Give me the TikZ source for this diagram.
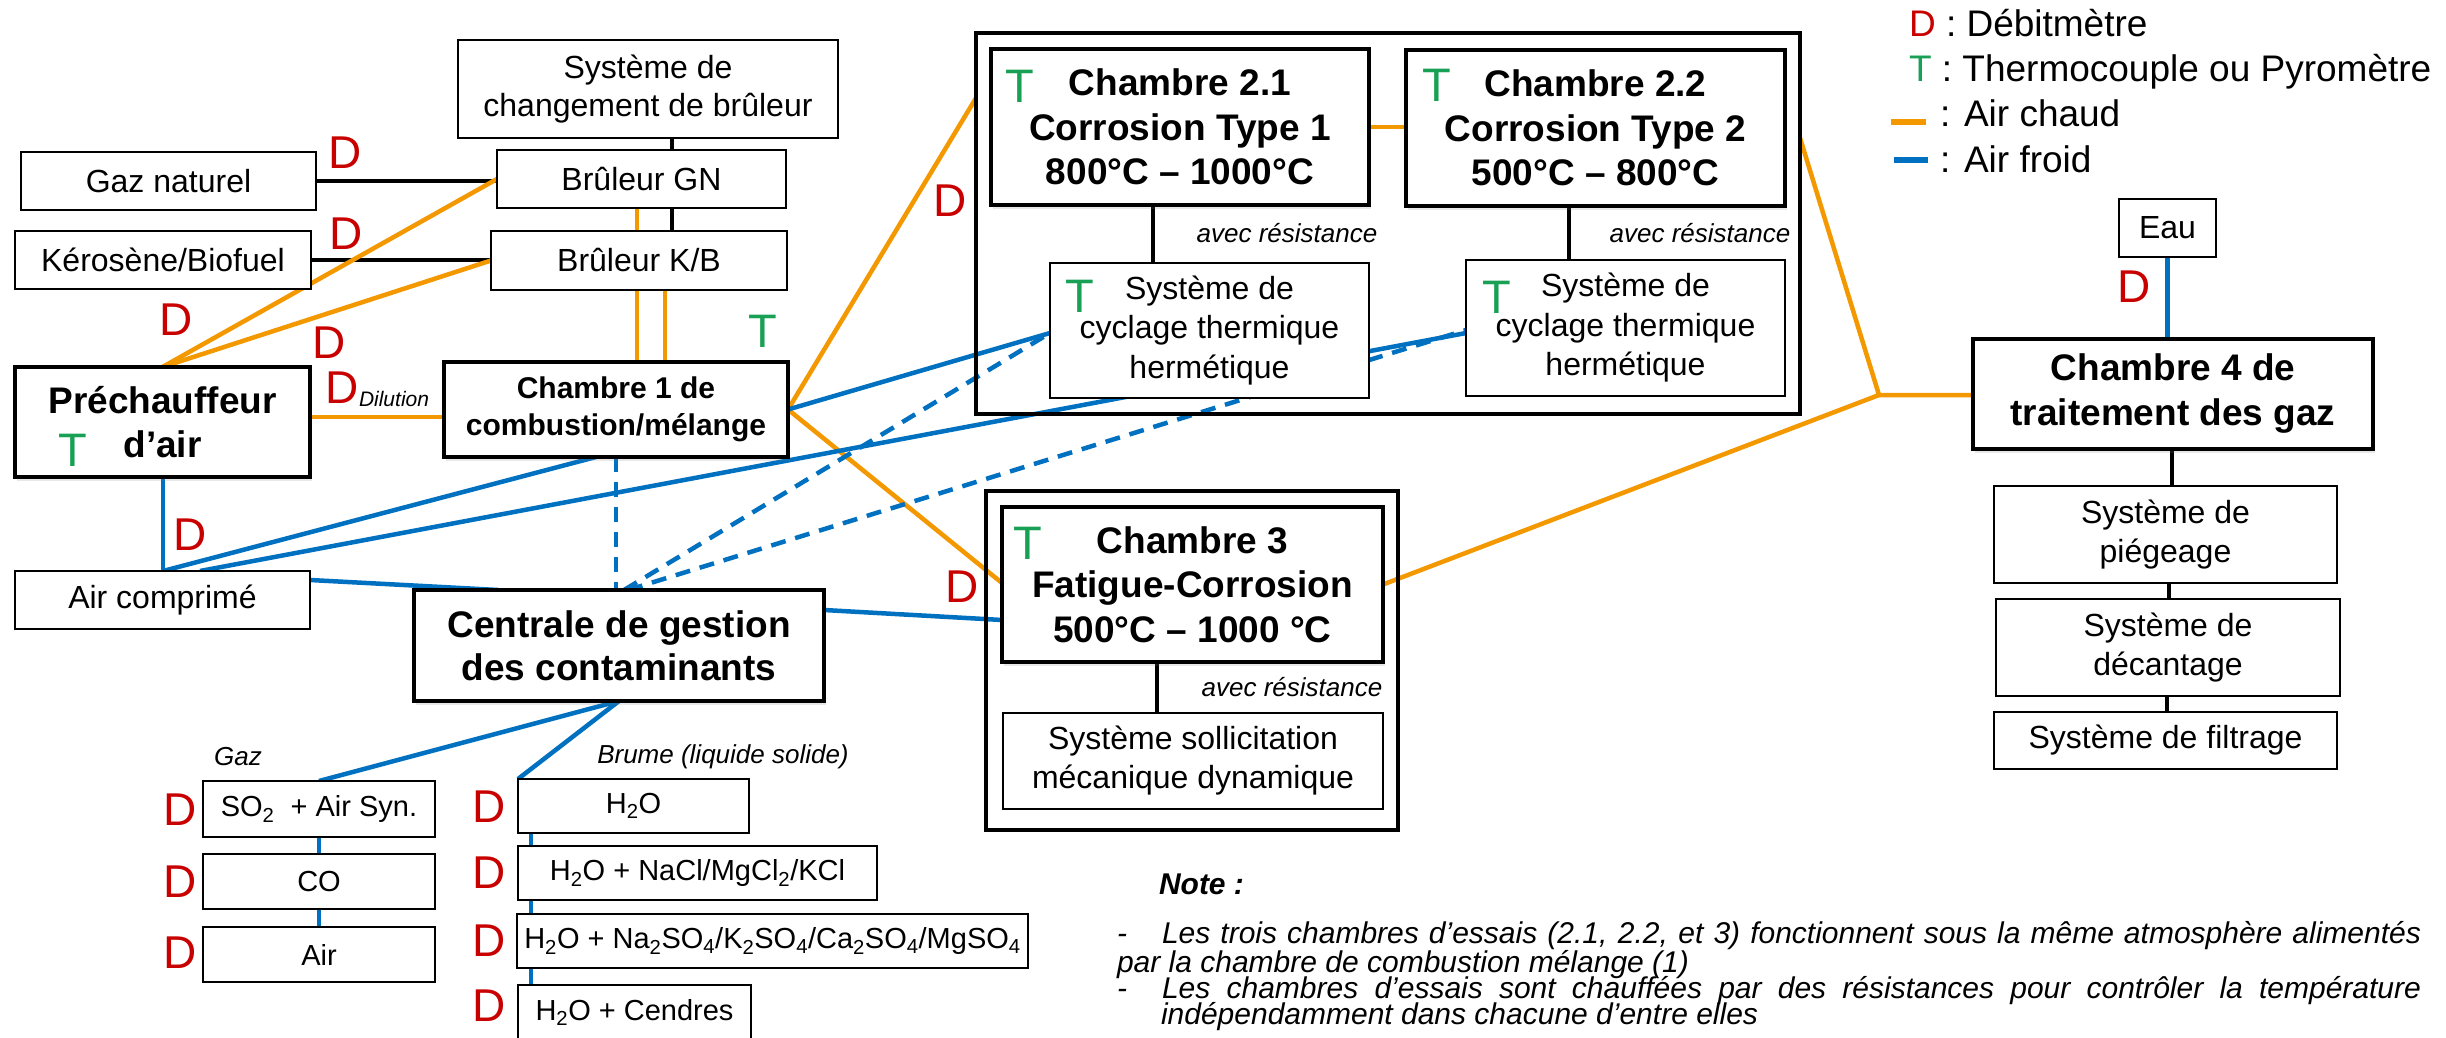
\documentclass[tikz,border=0pt]{standalone}
\usepackage{fontspec}
\setmainfont{Liberation Sans}
\usetikzlibrary{shadows}
\pgfdeclarelayer{bg}
\pgfsetlayers{bg,main}
\definecolor{hotc}{RGB}{244,152,0}
\definecolor{coldc}{RGB}{0,112,192}
\definecolor{dred}{RGB}{200,0,0}
\definecolor{tgreen}{RGB}{24,160,84}
\newcommand\setfs[2]{\fontsize{#1}{#2}\selectfont}
\begin{document}
\begin{tikzpicture}[x=1pt,y=-1pt,
  every node/.style={inner sep=0pt, outer sep=0pt},
  thin box/.style={draw, line width=2pt, fill=white, align=center, font=\setfs{32}{38.5}},
  conta/.style={thin box, font=\setfs{29}{34}},
  main box/.style={draw, line width=4pt, fill=white, align=center,
    font=\setfs{37}{44.5}\bfseries,
    drop shadow={shadow xshift=2pt, shadow yshift=-4pt, opacity=0.18}},
  frame/.style={draw, line width=4pt},
  dmark/.style={text=dred, font=\setfs{46}{46}},
  tmark/.style={text=tgreen, font=\setfs{47}{47}},
  remark/.style={font=\setfs{26}{30}\itshape},
  notetext/.style={anchor=base west, font=\setfs{30}{30}\itshape},
  legendtext/.style={anchor=base west, font=\setfs{37}{37}},
  hot/.style={draw=hotc, line width=4.5pt},
  cold/.style={draw=coldc, line width=4.5pt},
  colddash/.style={cold, dash pattern=on 15pt off 10pt},
  link/.style={draw=black, line width=4pt},
]
\useasboundingbox (0,0) rectangle (2446,1038);
\begin{pgfonlayer}{bg}
  \fill[white] (0,0) rectangle (2446,1038);
\end{pgfonlayer}

% ---------- burners and air supply ----------
\node[thin box, minimum width=380pt, minimum height=98pt] (sysb) at (648,89) {Système de\\changement de brûleur};
\node[thin box, minimum width=295pt, minimum height=58pt] (gaz) at (168.5,181) {Gaz naturel};
\node[thin box, minimum width=289pt, minimum height=58pt] (gn) at (641.5,179) {Brûleur GN};
\node[thin box, minimum width=296pt, minimum height=58pt] (ker) at (163,260) {Kérosène/Biofuel};
\node[thin box, minimum width=296pt, minimum height=59pt] (kb) at (639,260.5) {Brûleur K/B};
\node[main box, minimum width=295pt, minimum height=110pt] (pre) at (162.5,422) {Préchauffeur\\d’air};
\node[main box, font=\setfs{30}{37}\bfseries, minimum width=344pt, minimum height=95pt] (c1) at (616,409.5) {Chambre 1 de\\combustion/mélange};
\node[thin box, minimum width=295pt, minimum height=58pt] (air) at (162.5,600) {Air comprimé};

% ---------- contaminants ----------
\node[main box, font=\setfs{37}{43}\bfseries, minimum width=410pt, minimum height=111pt] (cent) at (619,645.5) {Centrale de gestion\\des contaminants};
\node[conta, minimum width=232pt, minimum height=56pt] (so2) at (319,809) {SO\textsubscript{2}\ \ + Air Syn.};
\node[conta, minimum width=232pt, minimum height=55pt] (co) at (319,881.5) {CO};
\node[conta, minimum width=232pt, minimum height=55pt] (airb) at (319,954.5) {Air};
\node[conta, minimum width=231pt, minimum height=54pt] (h2o) at (633.5,806) {H\textsubscript{2}O};
\node[conta, minimum width=359pt, minimum height=54pt] (nacl) at (697.5,873) {H\textsubscript{2}O + NaCl/MgCl\textsubscript{2}/KCl};
\node[conta, minimum width=511pt, minimum height=54pt] (naso) at (772.5,941) {H\textsubscript{2}O + Na\textsubscript{2}SO\textsubscript{4}/K\textsubscript{2}SO\textsubscript{4}/Ca\textsubscript{2}SO\textsubscript{4}/MgSO\textsubscript{4}};
\node[conta, minimum width=233pt, minimum height=55pt] (cend) at (634.5,1012.5) {H\textsubscript{2}O + Cendres};
\node[remark] (lgaz) at (238,757) {Gaz};
\node[remark] (lbrume) at (723,757) {Brume (liquide solide)};

% ---------- test chambers 2.1 / 2.2 ----------
\node[frame, minimum width=824pt, minimum height=381pt] (ch2) at (1388,223.5) {};
\node[main box, minimum width=378pt, minimum height=156pt] (c21) at (1180,127) {Chambre 2.1\\Corrosion Type 1\\800°C – 1000°C};
\node[main box, minimum width=379pt, minimum height=156pt] (c22) at (1595.5,128) {Chambre 2.2\\Corrosion Type 2\\500°C – 800°C};
\node[thin box, font=\setfs{32}{39.5}, minimum width=319pt, minimum height=135pt] (cy1) at (1209.5,330.5) {Système de\\cyclage thermique\\hermétique};
\node[thin box, font=\setfs{32}{39.5}, minimum width=319pt, minimum height=136pt] (cy2) at (1625.5,328) {Système de\\cyclage thermique\\hermétique};
\node[remark] (r21) at (1287,233) {avec résistance};
\node[remark] (r22) at (1700,233) {avec résistance};

% ---------- test chamber 3 ----------
\node[frame, minimum width=412pt, minimum height=339pt] (ch3) at (1192,660.5) {};
\node[main box, minimum width=381pt, minimum height=155pt] (c3) at (1192.5,584.5) {Chambre 3\\Fatigue-Corrosion\\500°C – 1000 °C};
\node[thin box, font=\setfs{32}{39}, minimum width=380pt, minimum height=96pt] (sol) at (1193,761) {Système sollicitation\\mécanique dynamique};
\node[remark] (r3) at (1292,687) {avec résistance};

% ---------- gas treatment ----------
\node[thin box, minimum width=97pt, minimum height=58pt] (eau) at (2167.5,228) {Eau};
\node[main box, font=\setfs{37}{45}\bfseries, minimum width=400pt, minimum height=110pt] (c4) at (2173,394) {Chambre 4 de\\traitement des gaz};
\node[thin box, minimum width=343pt, minimum height=97pt] (pieg) at (2165.5,534.5) {Système de\\piégeage};
\node[thin box, minimum width=344pt, minimum height=97pt] (dec) at (2168,647.5) {Système de\\décantage};
\node[thin box, minimum width=343pt, minimum height=57pt] (filt) at (2165.5,740.5) {Système de filtrage};

% ---------- flow meters (D) and thermocouples (T) ----------
\node[dmark] (d1) at (345,153) {D};
\node[dmark] (d2) at (346,234) {D};
\node[dmark] (d3) at (176,320) {D};
\node[dmark] (d4) at (329,343) {D};
\node[dmark] (d5) at (342,388) {D};
\node[anchor=base west, font=\setfs{21}{21}\itshape] (dil) at (359,406) {Dilution};
\node[dmark] (d6) at (190,535) {D};
\node[dmark] (d7) at (950,201) {D};
\node[dmark] (d8) at (962,587) {D};
\node[dmark] (d9) at (2134,287) {D};
\node[dmark] (dg1) at (180,810) {D};
\node[dmark] (dg2) at (180,882) {D};
\node[dmark] (dg3) at (180,953) {D};
\node[dmark] (db1) at (489,807) {D};
\node[dmark] (db2) at (489,873) {D};
\node[dmark] (db3) at (489,941) {D};
\node[dmark] (db4) at (489,1006) {D};
\node[tmark] (t1) at (73,450) {T};
\node[tmark] (t2) at (763,331) {T};
\node[tmark] (t3) at (1020,86) {T};
\node[tmark] (t4) at (1437,85) {T};
\node[tmark] (t5) at (1080,296) {T};
\node[tmark] (t6) at (1497,297) {T};
\node[tmark] (t7) at (1028,543) {T};

% ---------- legend ----------
\node[legendtext] (lg1) at (1909,37) {\textcolor{dred}{D} : Débitmètre};
\node[legendtext] (lg2) at (1909,82) {\textcolor{tgreen}{T} : Thermocouple ou Pyromètre};
\node[legendtext] (lg3) at (1940,127) {: Air chaud};
\node[legendtext] (lg4) at (1940,172) {: Air froid};
\draw[hotc, line width=6pt] (1891,122) -- (1926,122);
\draw[coldc, line width=6pt] (1894,160) -- (1928,160);

% ---------- note ----------
\node[notetext, font=\setfs{30}{30}\bfseries\itshape] (nt) at (1159,894) {Note :};
\node[notetext] (n1a) at (1117,943) {-};
\node[notetext] (n1) at (1162,943) {\makebox[1259pt][s]{Les trois chambres d’essais (2.1, 2.2, et 3) fonctionnent sous la même atmosphère alimentés}};
\node[notetext] (n2) at (1117,972) {par la chambre de combustion mélange (1)};
\node[notetext] (n3a) at (1117,998) {-};
\node[notetext] (n3) at (1162,998) {\makebox[1259pt][s]{Les chambres d’essais sont chauffées par des résistances pour contrôler la température}};
\node[notetext] (n4) at (1161,1024) {indépendamment dans chacune d’entre elles};

\coordinate (jn) at (1879,395);

% ---------- connectors (behind the boxes) ----------
\begin{pgfonlayer}{bg}
  % mechanical / fuel links
  \draw[link] (sysb.south -| 672,0) -- (gn.north -| 672,0);
  \draw[link] (gn.south -| 672,0) -- (kb.north -| 672,0);
  \draw[link] (gaz.east) -- (gaz.east -| gn.west);
  \draw[link] (ker.east) -- (ker.east -| kb.west);
  \draw[link] (c21.south -| 1153,0) -- (cy1.north -| 1153,0);
  \draw[link] (c22.south -| 1569,0) -- (cy2.north -| 1569,0);
  \draw[link] (c3.south -| 1157,0) -- (sol.north -| 1157,0);
  \draw[link] (c4.south -| 2172,0) -- (pieg.north -| 2172,0);
  \draw[link] (pieg.south -| 2169,0) -- (dec.north -| 2169,0);
  \draw[link] (dec.south -| 2167,0) -- (filt.north -| 2167,0);
  % hot air
  \draw[hot] (pre.north) -- (gn.west);
  \draw[hot] (pre.north) -- (kb.west);
  \draw[hot] (pre.east |- 0,417) -- (c1.west |- 0,417);
  \draw[hot] (gn.south -| 637,0) -- (c1.north -| 637,0);
  \draw[hot] (kb.south -| 665,0) -- (c1.north -| 665,0);
  \draw[hot] (c1.east) -- (ch2.west |- 0,98);
  \draw[hot] (c1.east) -- (c3.west |- 0,583);
  \draw[hot] (c21.east |- 0,127) -- (c22.west |- 0,127);
  \draw[hot] (ch2.east |- 0,138) -- (jn) -- (jn -| c4.west);
  \draw[hot] (jn) -- (c3.east);
  % cold air
  \draw[cold] (pre.south -| 163,0) -- (air.north -| 163,0);
  \draw[cold] (air.north -| 163,0) -- (c1.south -| 596,0);
  \draw[cold] (air.north -| 200,0) -- (cy2.west |- 0,333);
  \draw[cold] (c1.east) -- (cy1.west |- 0,333);
  \draw[cold] (air.east |- 0,580) -- (cent.north -| 498,0);
  \draw[cold] (cent.east |- 0,610) -- (c3.west |- 0,620);
  \draw[cold] (cent.south) -- (so2.north);
  \draw[cold] (cent.south) -- (h2o.north west);
  \draw[cold] (so2.south) -- (co.north);
  \draw[cold] (co.south) -- (airb.north);
  \draw[cold] (h2o.south -| 531,0) -- (cend.north -| 531,0);
  \draw[cold] (eau.south) -- (eau.south |- c4.north);
  % contaminated air
  \draw[colddash] (c1.south -| 616,0) -- (cent.north -| 616,0);
  \draw[colddash] (cent.north -| 624,0) -- (cy1.west |- 0,333);
  \draw[colddash] (cent.north -| 628,0) -- (cy2.west |- 0,330);
\end{pgfonlayer}
\end{tikzpicture}
\end{document}
